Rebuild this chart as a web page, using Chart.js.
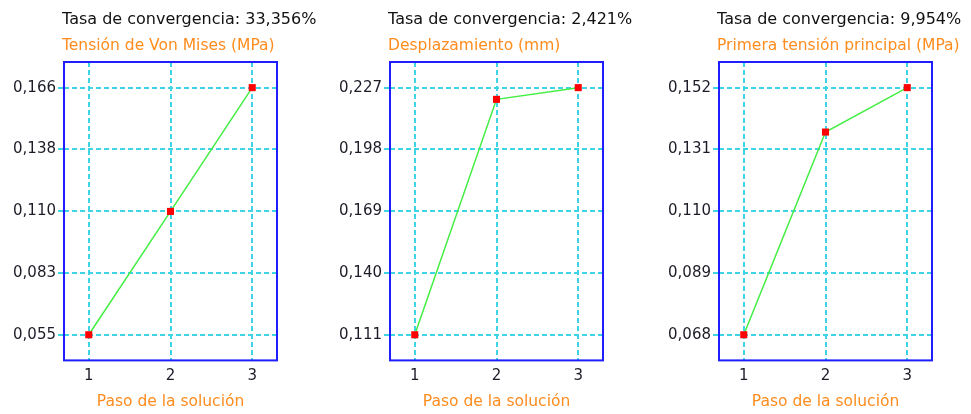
<!DOCTYPE html>
<html>
<head>
<meta charset="utf-8">
<script src="https://cdn.jsdelivr.net/npm/chart.js@4/dist/chart.umd.min.js"></script>
<style>
  html, body { margin: 0; padding: 0; background: #ffffff; }
  body { width: 971px; height: 414px; position: relative; overflow: hidden; }
  .panel { position: absolute; top: 0; height: 414px; }
</style>
</head>
<body>
<div class="panel" id="p1"><canvas id="c1"></canvas></div>
<div class="panel" id="p2"><canvas id="c2"></canvas></div>
<div class="panel" id="p3"><canvas id="c3"></canvas></div>
<script>
// Solution steps (x axis)
const steps = [1, 2, 3];
const stepLabels = ['1', '2', '3'];

// Von Mises stress per solution step (MPa)
const vonMises = [0.0553, 0.1104, 0.1657];
const vonMisesTicks = [0.0553, 0.0829, 0.1105, 0.1381, 0.1657];
const vonMisesTickLabels = ['0,055', '0,083', '0,110', '0,138', '0,166'];

// Displacement per solution step (mm)
const displacement = [0.1110, 0.2215, 0.2270];
const displacementTicks = [0.111, 0.140, 0.169, 0.198, 0.227];
const displacementTickLabels = ['0,111', '0,140', '0,169', '0,198', '0,227'];

// First principal stress per solution step (MPa)
const principal = [0.0680, 0.1369, 0.1520];
const principalTicks = [0.068, 0.089, 0.110, 0.131, 0.152];
const principalTickLabels = ['0,068', '0,089', '0,110', '0,131', '0,152'];

const rates = ['Tasa de convergencia: 33,356%', 'Tasa de convergencia: 2,421%', 'Tasa de convergencia: 9,954%'];
const quantities = ['Tensión de Von Mises (MPa)', 'Desplazamiento (mm)', 'Primera tensión principal (MPa)'];
const xTitle = 'Paso de la solución';

const FONT = 'Tahoma, "DejaVu Sans", sans-serif';
const ORANGE = '#ff8c1e';
const CYAN = '#3fd3e6';
const BLUE = '#1e1eff';
const GREEN = '#44ee44';
const RED = '#ff0000';
const INK = '#1c1c28';
const AXIS_W = 52;
const RIGHT_ROOM = 60;

// Blue frame round the plot area
const framePlugin = {
  id: 'frame',
  afterDatasetsDraw(chart) {
    const a = chart.chartArea, ctx = chart.ctx;
    ctx.save();
    ctx.strokeStyle = BLUE;
    ctx.lineWidth = 2;
    ctx.strokeRect(a.left, a.top, a.right - a.left, a.bottom - a.top);
    ctx.restore();
  }
};

// Two heading lines above the plot, left-aligned with the frame
const headingPlugin = {
  id: 'heading',
  afterDraw(chart, args, opts) {
    const ctx = chart.ctx, a = chart.chartArea;
    ctx.save();
    ctx.textAlign = 'left';
    ctx.textBaseline = 'middle';
    ctx.font = '16px ' + FONT;
    ctx.fillStyle = '#111111';
    ctx.fillText(opts.rate, a.left - 2, 20);
    ctx.font = '15.5px ' + FONT;
    ctx.fillStyle = ORANGE;
    ctx.fillText(opts.quantity, a.left - 2, 46);
    ctx.restore();
  }
};

function makeChart(canvasId, panelId, plotLeft, plotWidth, values, tickVals, tickLabels, rate, quantity) {
  const panel = document.getElementById(panelId);
  panel.style.left = (plotLeft - AXIS_W) + 'px';
  panel.style.width = (plotWidth + AXIS_W + RIGHT_ROOM) + 'px';

  const span = tickVals[tickVals.length - 1] - tickVals[0];
  const yStep = span / (tickVals.length - 1);
  const yMargin = 0.415 * yStep;
  const xMargin = 0.303;

  new Chart(document.getElementById(canvasId), {
    type: 'line',
    data: {
      datasets: [{
        data: steps.map((s, i) => ({ x: s, y: values[i] })),
        borderColor: GREEN,
        borderWidth: 1.5,
        tension: 0,
        pointStyle: 'rect',
        pointRadius: 5,
        pointBorderWidth: 0,
        pointBackgroundColor: RED,
        pointBorderColor: RED,
        clip: false
      }]
    },
    options: {
      responsive: true,
      maintainAspectRatio: false,
      animation: false,
      events: [],
      layout: { padding: { left: 0, right: RIGHT_ROOM, top: 62, bottom: 3 } },
      plugins: {
        legend: { display: false },
        tooltip: { enabled: false },
        heading: { rate: rate, quantity: quantity }
      },
      scales: {
        x: {
          type: 'linear',
          min: steps[0] - xMargin,
          max: steps[steps.length - 1] + xMargin,
          afterBuildTicks: (scale) => { scale.ticks = steps.map(v => ({ value: v })); },
          ticks: {
            color: INK, padding: 7,
            font: { family: FONT, size: 15, lineHeight: 1.2 },
            callback: (v, i) => stepLabels[i]
          },
          grid: { color: CYAN, lineWidth: 2, drawTicks: false },
          border: { display: false, dash: [5, 3] },
          title: {
            display: true, text: xTitle, color: ORANGE,
            font: { family: FONT, size: 15.5, lineHeight: 1.2 },
            padding: { top: 0, bottom: 0 }
          }
        },
        y: {
          type: 'linear',
          min: tickVals[0] - yMargin,
          max: tickVals[tickVals.length - 1] + yMargin,
          afterBuildTicks: (scale) => { scale.ticks = tickVals.map(v => ({ value: v })); },
          afterFit: (scale) => { scale.width = AXIS_W; },
          ticks: {
            color: INK, padding: 2,
            font: { family: FONT, size: 15, lineHeight: 1.2 },
            callback: (v, i) => tickLabels[i]
          },
          grid: { color: CYAN, lineWidth: 2, tickLength: 6, tickColor: CYAN, tickBorderDash: [5, 3] },
          border: { display: false, dash: [5, 3] }
        }
      }
    },
    plugins: [framePlugin, headingPlugin]
  });
}

makeChart('c1', 'p1', 64, 213, vonMises, vonMisesTicks, vonMisesTickLabels, rates[0], quantities[0]);
makeChart('c2', 'p2', 390, 213, displacement, displacementTicks, displacementTickLabels, rates[1], quantities[1]);
makeChart('c3', 'p3', 719, 213, principal, principalTicks, principalTickLabels, rates[2], quantities[2]);
</script>
</body>
</html>
